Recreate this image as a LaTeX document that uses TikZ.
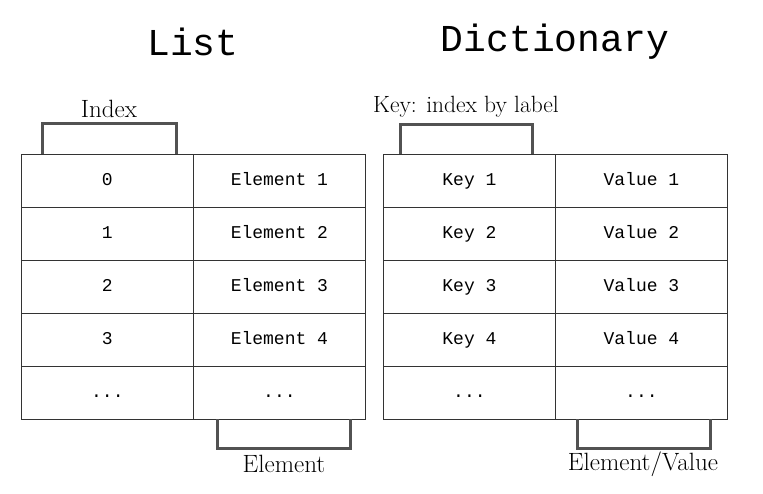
\documentclass[tikz,border=0pt]{standalone}
\usepackage{fontspec}
\newfontfamily\monofont{Liberation Mono}
\begin{document}
\begin{tikzpicture}[x=1pt,y=-1pt,
  cell/.style={draw=black!80,line width=0.8pt,minimum width=172pt,minimum height=53pt,inner sep=0pt,text height=11pt,text depth=2pt,font=\monofont\fontsize{18}{18}\selectfont,anchor=north west},
  title/.style={font=\monofont\fontsize{38}{38}\selectfont},
  lbl/.style={font=\fontsize{25}{25}\selectfont},
  bracket/.style={draw=black!68,line width=3pt,line join=miter}]
\useasboundingbox (0,0) rectangle (763,493);
\node[title] (tl) at (193,42) {List};
\node[title] (td) at (555,42) {Dictionary};
% List table
\foreach \r/\a/\b in {0/0/Element 1,1/1/Element 2,2/2/Element 3,3/3/Element 4,4/{...}/{...}}{
  \node[cell] (la\r) at (21,154+53*\r) {\a};
  \node[cell] (lb\r) at (193,154+53*\r) {\b};
}
\foreach \r/\a/\b in {0/Key 1/Value 1,1/Key 2/Value 2,2/Key 3/Value 3,3/Key 4/Value 4,4/{...}/{...}}{
  \node[cell] (da\r) at (383,154+53*\r) {\a};
  \node[cell] (db\r) at (555,154+53*\r) {\b};
}
% brackets
\coordinate (i1) at (42,154); \coordinate (i2) at (176,154);
\draw[bracket] (i1) -- ++(0,-31) -| (i2);
\node[lbl] (li) at (109,109) {Index};
\coordinate (k1) at (400,154); \coordinate (k2) at (532,154);
\draw[bracket] (k1) -- ++(0,-30) -| (k2);
\node[lbl,font=\fontsize{23.5}{23.5}\selectfont] (lk) at (466,107) {Key: index by label};
\coordinate (e1) at (217,419); \coordinate (e2) at (350,419);
\draw[bracket] (e1) -- ++(0,29) -| (e2);
\node[lbl] (le) at (284,464) {Element};
\coordinate (v1) at (577,419); \coordinate (v2) at (710,419);
\draw[bracket] (v1) -- ++(0,29) -| (v2);
\node[lbl] (lv) at (643,464) {Element/Value};
\end{tikzpicture}
\end{document}
